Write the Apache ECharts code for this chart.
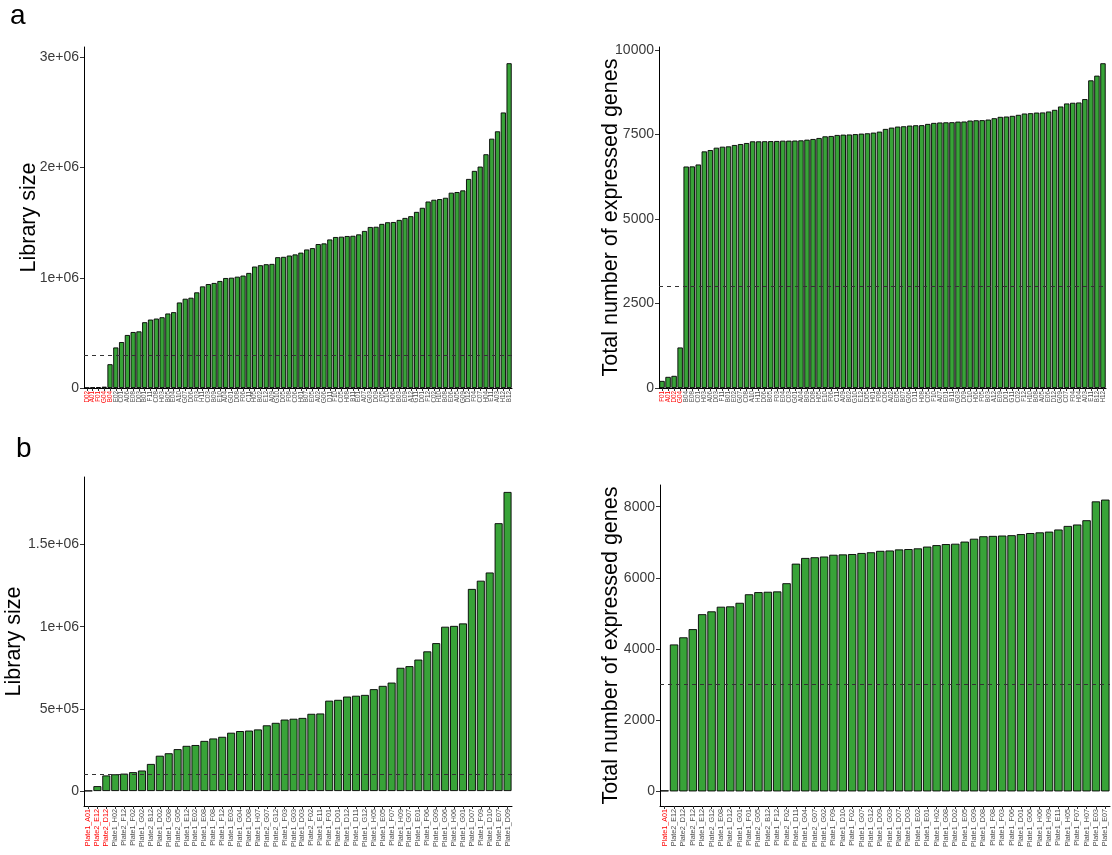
<!DOCTYPE html>
<html>
<head>
<meta charset="utf-8">
<script src="https://cdn.jsdelivr.net/npm/echarts@6/dist/echarts.min.js"></script>
<style>
  html, body { margin: 0; padding: 0; background: #fff; }
  #chart { width: 1112px; height: 855px; }
</style>
</head>
<body>
<div id="chart"></div>
<script>
// ---- Panel a: plate wells, sorted by value ----
const aWellsLib = ["D02","A01","F01","G04","B04","E02","C01","A06","E08","D03","B01","F11","C08","H03","B05","E04","A10","G07","D06","F03","H11","C03","B09","E10","A04","G01","D08","F06","C11","H05","B02","E12","A09","G10","D05","F08","C06","H01","B07","E05","A02","G06","D11","F10","C05","H08","B11","E01","A07","G03","D09","F05","C10","H06","B03","E09","A12","G11","D01","F12","C02","H10","B08","E06","A05","G09","D12","F04","C07","H04","E11","A03","H12","B12"];
const aLibSize = [3000,5000,8000,12000,216000,368000,417000,481000,508000,514000,597000,621000,630000,642000,676000,688000,776000,810000,819000,868000,922000,943000,953000,971000,998000,1001000,1010000,1020000,1044000,1102000,1114000,1123000,1126000,1187000,1190000,1202000,1212000,1228000,1257000,1269000,1306000,1312000,1348000,1370000,1373000,1379000,1381000,1394000,1425000,1461000,1463000,1489000,1504000,1506000,1525000,1543000,1559000,1598000,1635000,1692000,1708000,1714000,1726000,1772000,1778000,1793000,1897000,1970000,2009000,2121000,2262000,2329000,2500000,2947000];

const aWellsGenes = ["F01","A01","D02","G04","B04","E08","C01","H03","A06","D03","F11","B01","E02","G07","C08","A10","H11","D06","B05","F03","E04","C03","G01","A04","B09","D08","H05","E10","F06","C11","A09","B02","G10","E12","D05","H01","F08","C06","A02","E05","B07","G06","D11","H08","C05","F10","A07","E01","B11","G03","D09","C10","H06","F05","B03","A12","E09","D01","G11","C02","F12","H10","B08","A05","E06","D12","G09","C07","F04","H04","A03","E11","B12","H12"];
const aGenes = [210,330,360,1200,6557,6560,6617,7004,7044,7113,7143,7153,7193,7222,7252,7302,7302,7305,7308,7312,7321,7322,7325,7331,7351,7371,7401,7450,7460,7490,7500,7505,7515,7530,7540,7560,7589,7669,7708,7738,7748,7768,7778,7780,7817,7847,7860,7865,7868,7885,7889,7917,7925,7928,7946,7986,8026,8036,8056,8086,8125,8135,8153,8157,8185,8234,8333,8423,8443,8452,8552,9107,9246,9613];

// ---- Panel b: two plates ----
const bCellsLib = ["Plate1_A01","Plate2_E12","Plate2_D12","Plate1_H02","Plate2_F12","Plate1_F02","Plate1_G02","Plate2_B12","Plate1_D02","Plate1_G08","Plate2_G05","Plate1_E12","Plate1_E02","Plate1_E08","Plate1_F08","Plate1_F12","Plate1_E03","Plate1_G04","Plate1_D08","Plate1_H07","Plate2_G07","Plate2_G12","Plate1_F03","Plate1_G03","Plate1_D03","Plate2_F02","Plate1_E11","Plate1_F01","Plate1_D01","Plate1_D12","Plate1_D11","Plate1_G12","Plate1_H05","Plate1_E05","Plate1_F07","Plate1_H09","Plate1_G07","Plate1_E01","Plate1_F06","Plate1_G09","Plate1_G06","Plate1_H06","Plate1_G01","Plate1_D07","Plate1_F09","Plate1_D10","Plate1_E07","Plate1_D09"];
const bLibSize = [2000,30000,95000,102000,106000,115000,125000,165000,215000,230000,255000,275000,280000,305000,320000,330000,355000,365000,368000,375000,400000,415000,435000,440000,445000,470000,472000,550000,555000,575000,580000,585000,620000,640000,660000,750000,760000,800000,850000,900000,1000000,1005000,1020000,1230000,1280000,1330000,1630000,1820000];

const bCellsGenes = ["Plate1_A01","Plate2_E12","Plate2_D12","Plate2_F12","Plate1_E12","Plate2_G12","Plate1_E08","Plate1_D12","Plate1_G01","Plate1_F01","Plate2_G05","Plate2_B12","Plate1_F12","Plate2_F02","Plate1_D11","Plate1_G04","Plate2_G07","Plate1_G02","Plate1_F09","Plate1_D10","Plate1_F02","Plate1_G07","Plate1_G12","Plate1_D09","Plate1_G03","Plate1_D07","Plate1_D03","Plate1_E02","Plate1_E01","Plate1_H02","Plate1_G08","Plate1_D02","Plate1_E05","Plate1_G09","Plate1_D08","Plate1_F08","Plate1_F03","Plate1_F06","Plate1_D01","Plate1_G06","Plate1_H06","Plate1_H09","Plate1_E11","Plate1_H05","Plate1_F07","Plate1_H07","Plate1_E03","Plate1_E07"];
const bGenes = [30,4130,4330,4560,4980,5060,5190,5200,5300,5540,5600,5610,5620,5850,6400,6560,6580,6600,6650,6660,6670,6700,6720,6760,6770,6800,6810,6830,6880,6920,6950,6960,7020,7100,7170,7180,7190,7200,7230,7260,7280,7300,7360,7460,7500,7620,8150,8200];

// Filter thresholds (dashed lines)
const aLibCut = 300000, aGeneCut = 3000, bLibCut = 100000, bGeneCut = 3000;

// Y tick values
const aLibTicks = [0, 1000000, 2000000, 3000000];
const aGeneTicks = [0, 2500, 5000, 7500, 10000];
const bLibTicks = [0, 500000, 1000000, 1500000];
const bGeneTicks = [0, 2000, 4000, 6000, 8000];

const FONT = '"Liberation Sans", Arial, Helvetica, sans-serif';
const GREEN = '#38a338';

function sci(v) {
  if (v === 0) return '0';
  const e = Math.floor(Math.log10(v));
  const m = v / Math.pow(10, e);
  const ms = Number.isInteger(m) ? String(m) : m.toFixed(1);
  return ms + 'e+' + String(e).padStart(2, '0');
}

const grids = [
  { left: 84,  top: 47,  width: 428, height: 341 },
  { left: 659, top: 47,  width: 447, height: 341 },
  { left: 84,  top: 477, width: 428, height: 329 },
  { left: 660, top: 485, width: 450, height: 321 }
];

const panels = [
  { cats: aWellsLib,   vals: aLibSize, cut: aLibCut,  ticks: aLibTicks,  min: 0,      max: 3094000, fmt: sci, name: 'Library size', nameGap: 44, lblSize: 6.3 },
  { cats: aWellsGenes, vals: aGenes,   cut: aGeneCut, ticks: aGeneTicks, min: 0,      max: 10094,   fmt: String, name: 'Total number of expressed genes', nameGap: 37, lblSize: 6.3 },
  { cats: bCellsLib,   vals: bLibSize, cut: bLibCut,  ticks: bLibTicks,  min: -91000, max: 1911000, fmt: sci, name: 'Library size', nameGap: 59, lblSize: 7.2 },
  { cats: bCellsGenes, vals: bGenes,   cut: bGeneCut, ticks: bGeneTicks, min: -410,   max: 8610,    fmt: String, name: 'Total number of expressed genes', nameGap: 38, lblSize: 7.2 }
];

const xAxis = [], yAxis = [], series = [];
panels.forEach((p, i) => {
  xAxis.push({
    type: 'category', gridIndex: i, data: p.cats,
    axisLine: { onZero: false, lineStyle: { color: '#000', width: 1 } },
    axisTick: { show: true, alignWithLabel: true, length: 3, lineStyle: { color: '#333' } },
    axisLabel: {
      interval: 0, rotate: 90, fontSize: p.lblSize, fontFamily: FONT, margin: 3,
      color: (val, idx) => (p.vals[idx] < p.cut ? '#ff0000' : '#4d4d4d')
    }
  });
  yAxis.push({
    type: 'value', gridIndex: i, min: p.min, max: p.max,
    splitLine: { show: false },
    axisLine: { show: true, lineStyle: { color: '#000', width: 1 } },
    axisTick: { show: true, length: 4, customValues: p.ticks, lineStyle: { color: '#333' } },
    axisLabel: { customValues: p.ticks, formatter: p.fmt, fontSize: 14, color: '#3a3a3a', fontFamily: FONT, margin: 5 },
    name: p.name, nameLocation: 'middle', nameGap: p.nameGap, nameMoveOverlap: false,
    nameTextStyle: { fontSize: 21.5, color: '#000', fontFamily: FONT }
  });
  series.push({
    type: 'bar', xAxisIndex: i, yAxisIndex: i, data: p.vals,
    barCategoryGap: '10%',
    itemStyle: { color: GREEN, borderColor: '#000', borderWidth: 0.9 },
    markLine: {
      silent: true, symbol: 'none', label: { show: false },
      lineStyle: { type: [4, 4], color: '#333', width: 1 },
      data: [{ yAxis: p.cut }]
    }
  });
});

const chart = echarts.init(document.getElementById('chart'), null, { renderer: 'canvas' });
chart.setOption({
  animation: false,
  backgroundColor: '#fff',
  grid: grids,
  xAxis: xAxis,
  yAxis: yAxis,
  series: series,
  graphic: [
    { type: 'text', left: 10, top: 2, style: { text: 'a', fontSize: 28, fontFamily: FONT, fill: '#000' } },
    { type: 'text', left: 16, top: 435, style: { text: 'b', fontSize: 28, fontFamily: FONT, fill: '#000' } }
  ]
});
</script>
</body>
</html>
